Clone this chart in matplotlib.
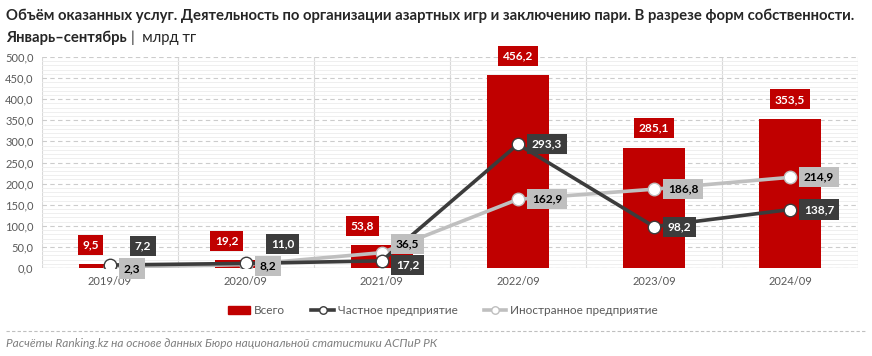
import numpy as np
import matplotlib.pyplot as plt
from matplotlib.ticker import MultipleLocator, FuncFormatter

years = ["2019/09", "2020/09", "2021/09", "2022/09", "2023/09", "2024/09"]
total = [9.5, 19.2, 53.8, 456.2, 285.1, 353.5]
private = [7.2, 11.0, 17.2, 293.3, 98.2, 138.7]
foreign = [2.3, 8.2, 36.5, 162.9, 186.8, 214.9]

RED = '#c00000'
DARK = '#3c3c3c'
LIGHT = '#bfbfbf'

plt.rcParams['font.family'] = ['Lato', 'DejaVu Sans']

fig = plt.figure(figsize=(8.72, 3.56), dpi=100)
ax = fig.add_axes([0.048, 0.247, 0.936, 0.593])

x = np.arange(len(years))
ax.bar(x, total, width=0.46, color=RED, zorder=2)
ax.plot(x, private, color=DARK, lw=2.6, marker='o', ms=9, mfc='white', mec=DARK, mew=1, zorder=4,
        label='Частное предприятие')
ax.plot(x, foreign, color=LIGHT, lw=2.6, marker='o', ms=9, mfc='white', mec=LIGHT, mew=1, zorder=3,
        label='Иностранное предприятие')

def fmt(v):
    return ('%.1f' % v).replace('.', ',')

# bar value labels
bar_off = [(-14, 10), (-14, 10), (-14, 10), (0, 10), (0, 10), (0, 10)]
for i, v in enumerate(total):
    ax.annotate(fmt(v), (x[i], v), xytext=bar_off[i], textcoords='offset points', ha='center', va='bottom',
                color='white', fontsize=8.6, fontweight='bold', zorder=6,
                bbox=dict(boxstyle='square,pad=0.38', fc=RED, ec='none'))

priv_off = [(18, 14), (18, 14), (10, -3), (10, 0), (10, 0), (10, 0)]
for i, v in enumerate(private):
    ax.annotate(fmt(v), (x[i], v), xytext=priv_off[i], textcoords='offset points', ha='left', va='center',
                color='white', fontsize=8.6, fontweight='bold', zorder=7,
                bbox=dict(boxstyle='square,pad=0.38', fc=DARK, ec='none'))

for_off = [(10, -1), (10, -1), (10, 6), (10, 0), (10, 0), (10, 0)]
for i, v in enumerate(foreign):
    ax.annotate(fmt(v), (x[i], v), xytext=for_off[i], textcoords='offset points', ha='left', va='center',
                color='black', fontsize=8.6, fontweight='bold', zorder=7,
                bbox=dict(boxstyle='square,pad=0.38', fc=LIGHT, ec='none'))

ax.set_xlim(-0.5, len(years) - 0.5)
ax.set_ylim(0, 500)
ax.set_xticks(x)
ax.set_xticklabels(years)
ax.yaxis.set_major_locator(MultipleLocator(50))
ax.yaxis.set_minor_locator(MultipleLocator(10))
ax.yaxis.set_major_formatter(FuncFormatter(lambda v, p: fmt(v)))
ax.set_xticks(np.arange(len(years) + 1) - 0.5, minor=True)
ax.grid(axis='y', which='major', color='#cccccc', ls=(0, (4, 3)), lw=0.8, zorder=0)
ax.grid(axis='y', which='minor', color='#ececec', lw=0.6, zorder=0)
ax.grid(axis='x', which='minor', color='#d9d9d9', lw=0.8, zorder=0)
ax.tick_params(axis='both', which='both', length=0, labelsize=8, colors='#595959', pad=6)
for s in ax.spines.values():
    s.set_visible(False)
ax.axhline(0, color='#d9d9d9', lw=1, zorder=1)

h_bar = plt.Rectangle((0, 0), 1, 1, color=RED)
handles, labels = ax.get_legend_handles_labels()
fig.legend([h_bar] + handles, ['Всего'] + labels, loc='center', bbox_to_anchor=(0.508, 0.127), ncol=3,
           frameon=False, fontsize=8.5, labelcolor='#595959', handlelength=1.9, handletextpad=0.35,
           columnspacing=2.2, markerscale=0.6)

fig.text(0.007, 0.955, 'Объём оказанных услуг. Деятельность по организации азартных игр и заключению пари. '
         'В разрезе форм собственности.', fontsize=10.7, fontweight='bold', color='#262626', va='center')
t = fig.text(0.007, 0.895, 'Январь–сентябрь', fontsize=10.7, fontweight='bold', color='#262626', va='center')
fig.canvas.draw()
bb = t.get_window_extent()
fig.text(bb.x1 / fig.bbox.width + 0.005, 0.895, '|  млрд тг', fontsize=10.7, color='#262626', va='center')

fig.add_artist(plt.Line2D([0.007, 0.993], [0.07, 0.07], color='#bfbfbf', lw=0.8, ls=(0, (3, 2))))
fig.text(0.007, 0.035, 'Расчёты Ranking.kz на основе данных Бюро национальной статистики АСПиР РК',
         fontsize=8.6, style='italic', color='#7f7f7f', va='center')

fig.savefig('out.png', dpi=100)
